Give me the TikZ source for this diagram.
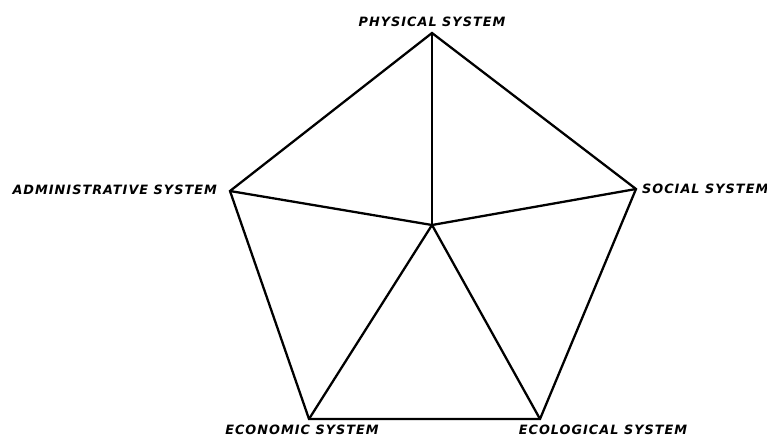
\documentclass[tikz,border=0pt]{standalone}
\usepackage{fontspec}
\newfontfamily\lblfont[LetterSpace=8]{DejaVu Sans}
\usepackage{tikz}
\usetikzlibrary{positioning,calc}

\begin{document}
\begin{tikzpicture}[x=0.02cm,y=-0.02cm,
   lbl/.style={font=\lblfont\bfseries\itshape\fontsize{7.3}{8}\selectfont,inner sep=1pt},
   edge/.style={line width=1.3pt,line join=miter,color=black}]
  \useasboundingbox (0,0) rectangle (767,437);
  \coordinate (phys) at (432,33);
  \coordinate (admin) at (230,191);
  \coordinate (social) at (636,189);
  \coordinate (econ) at (309,419);
  \coordinate (ecol) at (540,419);
  \coordinate (c) at (432,225);
  \node[lbl] (lphys) at (432,22) {PHYSICAL SYSTEM};
  \node[lbl,anchor=east] (ladmin) at (219,190) {ADMINISTRATIVE SYSTEM};
  \node[lbl,anchor=west] (lsocial) at (640,189) {SOCIAL SYSTEM};
  \node[lbl] (lecon) at (302,430) {ECONOMIC SYSTEM};
  \node[lbl] (lecol) at (603,430) {ECOLOGICAL SYSTEM};
  \draw[edge] (phys) -- (social) -- (ecol) -- (econ) -- (admin) -- cycle;
  \foreach \v in {phys,admin,social,econ,ecol}
    \draw[edge] (c) -- (\v);
\end{tikzpicture}
\end{document}
